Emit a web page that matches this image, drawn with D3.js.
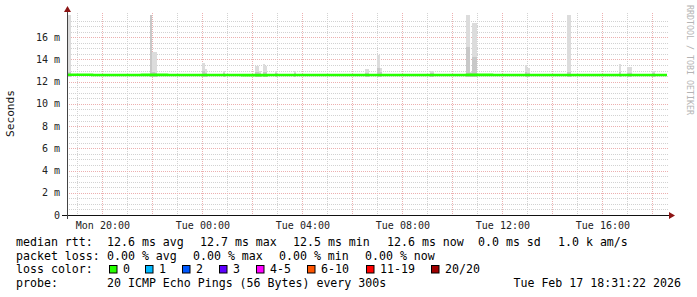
<!DOCTYPE html>
<html><head><meta charset="utf-8">
<script src="https://cdn.jsdelivr.net/npm/d3@7"></script>
<style>
html,body{margin:0;padding:0;background:#fff;}
svg{display:block;font-family:"DejaVu Sans Mono",monospace;}
text{white-space:pre;}
</style>
</head><body>
<svg id="c" width="697" height="297"></svg>
<script>
// ---------- data ----------
const startTime = new Date(2026, 1, 16, 18, 35, 0);
const endTime   = new Date(2026, 1, 17, 18, 35, 0);
const yMax = 18;                        // ms
const yLabelTicks = [0, 2, 4, 6, 8, 10, 12, 14, 16];
const yAxisTitle = "Seconds";
const watermark = "RRDTOOL / TOBI OETIKER";

// median rtt (ms), one value per hour from start
const medianHourly = [12.62, 12.6, 12.6, 12.61, 12.6, 12.6, 12.6, 12.59, 12.6, 12.6, 12.6, 12.6, 12.6,
                      12.6, 12.6, 12.6, 12.61, 12.6, 12.6, 12.6, 12.6, 12.6, 12.6, 12.6, 12.6];

// smoke (spread of 20 pings), minutes after start (5 min steps)
const smokeMinute = [0, 5, 200, 205, 210, 325, 330, 375, 450, 455, 460, 470, 475, 500, 545,
                     715, 720, 745, 750, 870, 875, 958, 963, 968, 973, 978, 1100, 1105,
                     1200, 1205, 1325, 1345, 1350, 1405];
const smokeOuter  = [18.5, 18.5, 18.5, 14.7, 14.7, 13.7, 13.1, 13.0, 13.4, 13.4, 13.0, 13.6, 13.4, 13.0, 13.0,
                     13.1, 13.1, 14.4, 13.2, 13.0, 13.0, 18.5, 18.5, 12.9, 17.3, 17.3, 13.5, 13.2,
                     18.5, 18.5, 13.6, 13.3, 13.3, 13.0];
const smokeInner  = [12.9, 12.9, 18.5, 12.9, 12.8, 13.0, 12.8, 12.8, 12.9, 12.9, 12.8, 12.9, 12.9, 12.8, 12.8,
                     12.8, 12.8, 13.2, 12.9, 12.8, 12.8, 15.1, 15.1, 12.8, 14.2, 14.2, 12.9, 12.8,
                     12.9, 12.9, 12.9, 12.8, 12.8, 12.8];
const smokeLow    = [12.45, 12.45, 12.45, 12.45, 12.45, 12.45, 12.45, 12.45, 12.45, 12.45, 12.45, 12.45, 12.45, 12.45, 12.45,
                     12.45, 12.45, 12.45, 12.45, 12.45, 12.45, 12.4, 12.4, 12.45, 12.45, 12.45, 12.45, 12.45,
                     12.45, 12.45, 12.45, 12.45, 12.45, 12.45];

const medianTitle = "median rtt:";
const medianItems = ["12.6 ms avg", "12.7 ms max", "12.5 ms min", "12.6 ms now", "0.0 ms sd", "1.0 k am/s"];
const lossTitle = "packet loss:";
const lossItems = ["0.00 % avg", "0.00 % max", "0.00 % min", "0.00 % now"];
const lossColorTitle = "loss color:";
const lossLabels = ["0", "1", "2", "3", "4-5", "6-10", "11-19", "20/20"];
const lossColors = ["#26ff00", "#00b8ff", "#0059ff", "#5e00ff", "#ff00ff", "#ff5500", "#ff0000", "#a00000"];
const probeTitle = "probe:";
const probeText  = "20 ICMP Echo Pings (56 Bytes) every 300s";
const stampText  = "Tue Feb 17 18:31:22 2026";

// ---------- layout ----------
const medianItemX = [107, 200, 293, 387, 478, 558];
const lossItemX   = [107, 193, 279, 365];
const lossBoxX    = [109, 145, 182, 219, 256, 307, 366, 431];

const svg = d3.select("#c");
const X0 = 67, X1 = 667, Y0 = 215, Y1 = 15;
const x = d3.scaleTime().domain([startTime, endTime]).range([X0, X1]);
const y = d3.scaleLinear().domain([0, yMax]).range([Y0, Y1]);

const MINOR = "#d2d2d2", MAJOR = "#ecb0b0";
const gGrid = svg.append("g").attr("shape-rendering", "crispEdges");
const minorY = d3.range(0.5, yMax, 0.5).filter(v => v % 2 !== 0);
const majorY = d3.range(2, yMax, 2);
const hours = x.ticks(d3.timeHour.every(1)).filter(d => x(d) > X0 + 1);
const minorX = hours.filter(d => d.getHours() % 2 !== 0);
const majorX = hours.filter(d => d.getHours() % 2 === 0);
function hLines(data, color) {
  gGrid.append("g").selectAll("line").data(data).join("line")
    .attr("x1", X0).attr("x2", X1 + 2).attr("y1", d => Math.round(y(d)) + 0.5).attr("y2", d => Math.round(y(d)) + 0.5)
    .attr("stroke", color).attr("stroke-dasharray", "1,1");
}
function vLines(data, color) {
  gGrid.append("g").selectAll("line").data(data).join("line")
    .attr("x1", d => Math.round(x(d)) + 0.5).attr("x2", d => Math.round(x(d)) + 0.5)
    .attr("y1", Y1 - 2).attr("y2", Y0).attr("stroke", color).attr("stroke-dasharray", "1,1");
}
hLines(minorY, MINOR); vLines(minorX, MINOR);
hLines(majorY, MAJOR); vLines(majorX, MAJOR);

// smoke
const smoke = smokeMinute.map((m, i) => ({
  t0: d3.timeMinute.offset(startTime, m), t1: d3.timeMinute.offset(startTime, m + 5),
  outer: Math.min(smokeOuter[i], yMax), inner: Math.min(smokeInner[i], yMax), low: smokeLow[i]
}));
const gS = svg.append("g").attr("shape-rendering", "crispEdges");
gS.selectAll("rect.o").data(smoke).join("rect").attr("class", "o")
  .attr("x", d => x(d.t0)).attr("width", d => x(d.t1) - x(d.t0))
  .attr("y", d => y(d.outer)).attr("height", d => y(d.low) - y(d.outer)).attr("fill", "#dcdcdc");
gS.selectAll("rect.i").data(smoke).join("rect").attr("class", "i")
  .attr("x", d => x(d.t0)).attr("width", d => x(d.t1) - x(d.t0))
  .attr("y", d => y(d.inner)).attr("height", d => y(d.low) - y(d.inner)).attr("fill", "#c8c8c8");

// median line
const med = medianHourly.map((v, i) => ({ t: d3.timeHour.offset(startTime, i), v }));
svg.append("path").datum(med)
  .attr("d", d3.line().x(d => x(d.t)).y(d => y(d.v)).curve(d3.curveStepAfter))
  .attr("fill", "none").attr("stroke", lossColors[0]).attr("stroke-width", 2.6);

// axes
const ax = svg.append("g").attr("shape-rendering", "crispEdges");
ax.append("line").attr("x1", X0 - 5).attr("x2", X1 + 4).attr("y1", Y0 + 0.5).attr("y2", Y0 + 0.5).attr("stroke", "#111");
ax.append("line").attr("x1", X0 + 0.5).attr("x2", X0 + 0.5).attr("y1", Y0 + 4).attr("y2", Y1 - 4).attr("stroke", "#444");
svg.append("path").attr("d", `M${X0 - 3},${Y1 - 3}L${X0 + 4},${Y1 - 3}L${X0 + 0.5},${Y1 - 9}Z`).attr("fill", "#8c1414");
svg.append("path").attr("d", `M${X1 + 2},${Y0 - 3}L${X1 + 2},${Y0 + 4}L${X1 + 8},${Y0 + 0.5}Z`).attr("fill", "#8c1414");

// y labels
svg.append("g").selectAll("text").data(yLabelTicks).join("text")
  .attr("x", 60).attr("y", d => y(d) + 3.6).attr("text-anchor", "end")
  .attr("font-size", 10).attr("fill", "#222")
  .text(d => d === 0 ? "0" : `${d} m`);

// x labels
const fmt = d3.timeFormat("%a %H:%M");
const labX = hours.filter(d => d.getHours() % 4 === 0);
svg.append("g").selectAll("text").data(labX).join("text")
  .attr("x", d => x(d) + 0.5).attr("y", 228.5).attr("text-anchor", "middle")
  .attr("font-size", 10).attr("fill", "#222").text(fmt);

// titles
svg.append("text").attr("transform", "translate(14,113.5) rotate(-90)")
  .attr("text-anchor", "middle").attr("font-size", 11.2).attr("fill", "#111").text(yAxisTitle);
svg.append("text").attr("transform", "translate(687,60) rotate(90)")
  .attr("text-anchor", "middle").attr("font-size", 8.3).attr("fill", "#b4b4b4").text(watermark);

// legend
const FS = 11.6;
const lg = svg.append("g").attr("font-size", FS).attr("fill", "#000");
lg.append("text").attr("x", 16).attr("y", 246).text(medianTitle);
medianItems.forEach((s, i) => lg.append("text").attr("x", medianItemX[i]).attr("y", 246).text(s));
lg.append("text").attr("x", 16).attr("y", 259.5).text(lossTitle);
lossItems.forEach((s, i) => lg.append("text").attr("x", lossItemX[i]).attr("y", 259.5).text(s));
lg.append("text").attr("x", 16).attr("y", 273).text(lossColorTitle);
lossLabels.forEach((lab, i) => {
  lg.append("rect").attr("x", lossBoxX[i] + 0.5).attr("y", 265.5).attr("width", 7.5).attr("height", 7.5)
    .attr("fill", lossColors[i]).attr("stroke", "#000").attr("stroke-width", 1);
  lg.append("text").attr("x", lossBoxX[i] + 14).attr("y", 273).text(lab);
});
lg.append("text").attr("x", 16).attr("y", 286.5).text(probeTitle);
lg.append("text").attr("x", 107).attr("y", 286.5).text(probeText);
lg.append("text").attr("x", 681).attr("y", 286.5).attr("text-anchor", "end").text(stampText);
</script>
</body></html>
